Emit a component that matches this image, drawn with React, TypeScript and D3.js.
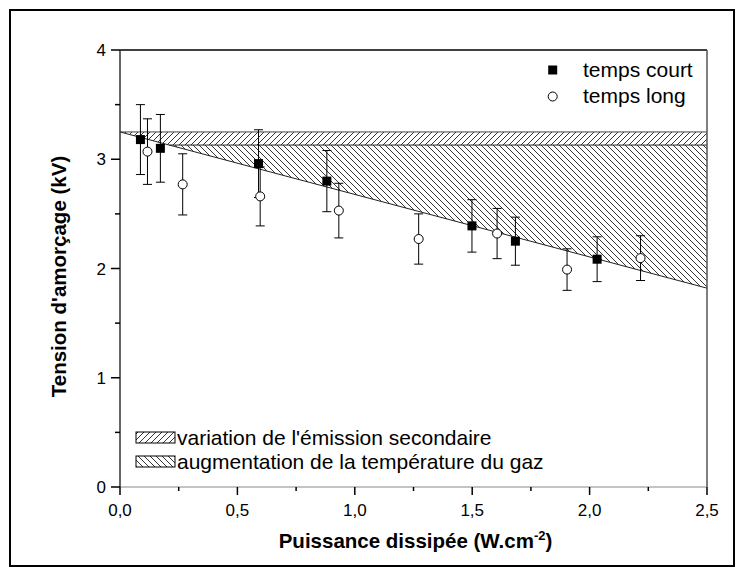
import React from "react";
import * as d3 from "d3";

// temps court (filled squares)
const courtX = [0.087, 0.172, 0.59, 0.881, 1.499, 1.684, 2.032];
const courtY = [3.18, 3.1, 2.96, 2.8, 2.39, 2.25, 2.085];
const courtErr = [0.32, 0.31, 0.31, 0.28, 0.24, 0.22, 0.205];

// temps long (open circles)
const longX = [0.117, 0.267, 0.597, 0.932, 1.272, 1.606, 1.904, 2.217];
const longY = [3.07, 2.77, 2.66, 2.53, 2.27, 2.32, 1.99, 2.095];
const longErr = [0.3, 0.28, 0.27, 0.25, 0.23, 0.23, 0.19, 0.205];

// hatched zones
const bandTop = 3.25;
const bandMid = 3.13;
const slopeEnd = 1.82;

const xTicks = [0, 0.5, 1, 1.5, 2, 2.5];
const xMinor = [0.25, 0.75, 1.25, 1.75, 2.25];
const yTicks = [0, 1, 2, 3, 4];
const yMinor = [0.5, 1.5, 2.5, 3.5];

const legendSeries = ["temps court", "temps long"];
const legendZones = [
  "variation de l'émission secondaire",
  "augmentation de la température du gaz",
];

const W = 744;
const H = 576;
const m = { left: 120, right: 707, top: 50, bottom: 487 };
const font = "'Liberation Sans', Arial, sans-serif";
const fmt = (v: number) => v.toFixed(1).replace(".", ",");

const App: React.FC = () => {
  const x = d3.scaleLinear().domain([0, 2.5]).range([m.left, m.right]);
  const y = d3.scaleLinear().domain([0, 4]).range([m.bottom, m.top]);

  // sloped line from (0, bandTop) to (2.5, slopeEnd)
  const slope = (slopeEnd - bandTop) / 2.5;
  const xCross = (bandMid - bandTop) / slope;

  const line = d3
    .line<[number, number]>()
    .x((d) => x(d[0]))
    .y((d) => y(d[1]));

  const zone1: [number, number][] = [
    [0, bandTop],
    [2.5, bandTop],
    [2.5, bandMid],
    [xCross, bandMid],
  ];
  const zone2: [number, number][] = [
    [xCross, bandMid],
    [2.5, bandMid],
    [2.5, slopeEnd],
  ];

  const sq = 9;
  const cap = 4.5;

  return (
    <svg
      width={W}
      height={H}
      style={{ position: "absolute", left: 0, top: 0, background: "#fff" }}
      fontFamily={font}
    >
      <defs>
        <pattern id="fwd" patternUnits="userSpaceOnUse" width={6} height={6}>
          <path d="M-1,1 l2,-2 M0,6 l6,-6 M5,7 l2,-2" stroke="#000" strokeWidth={0.8} />
        </pattern>
        <pattern id="back" patternUnits="userSpaceOnUse" width={6} height={6}>
          <path d="M-1,5 l2,2 M0,0 l6,6 M5,-1 l2,2" stroke="#000" strokeWidth={0.8} />
        </pattern>
      </defs>

      <rect x={10} y={10} width={724} height={556} fill="#fff" stroke="#000" strokeWidth={2} />

      {/* hatched zones */}
      <path d={line(zone1) + "Z"} fill="url(#fwd)" stroke="none" />
      <path d={line(zone2) + "Z"} fill="url(#back)" stroke="none" />
      <path d={line([[0, bandTop], [2.5, bandTop]])!} stroke="#444" strokeWidth={1} />
      <path d={line([[xCross, bandMid], [2.5, bandMid]])!} stroke="#222" strokeWidth={1} />
      <path d={line([[0, bandTop], [2.5, slopeEnd]])!} stroke="#222" strokeWidth={1} />

      {/* frame */}
      <line x1={m.left} x2={m.right} y1={m.top} y2={m.top} stroke="#000" strokeWidth={1.5} />
      <line x1={m.right} x2={m.right} y1={m.top} y2={m.bottom} stroke="#555" strokeWidth={1.5} />
      <line x1={m.left} x2={m.right} y1={m.bottom} y2={m.bottom} stroke="#888" strokeWidth={1} />
      <line x1={m.left} x2={m.left} y1={m.top} y2={m.bottom} stroke="#333" strokeWidth={1.5} />

      {/* x axis */}
      {xTicks.map((t) => (
        <g key={"xt" + t}>
          <line x1={x(t)} x2={x(t)} y1={m.bottom} y2={m.bottom + 8} stroke="#000" strokeWidth={1.5} />
          <text x={x(t)} y={m.bottom + 29} fontSize={17} textAnchor="middle">
            {fmt(t)}
          </text>
        </g>
      ))}
      {xMinor.map((t) => (
        <line key={"xm" + t} x1={x(t)} x2={x(t)} y1={m.bottom} y2={m.bottom + 4} stroke="#000" strokeWidth={1.5} />
      ))}

      {/* y axis */}
      {yTicks.map((t) => (
        <g key={"yt" + t}>
          <line x1={m.left - 9} x2={m.left} y1={y(t)} y2={y(t)} stroke="#000" strokeWidth={1.5} />
          <text x={m.left - 14} y={y(t) + 6} fontSize={17} textAnchor="end">
            {t}
          </text>
        </g>
      ))}
      {yMinor.map((t) => (
        <line key={"ym" + t} x1={m.left - 5} x2={m.left} y1={y(t)} y2={y(t)} stroke="#000" strokeWidth={1.5} />
      ))}

      {/* axis titles */}
      <text x={(m.left + m.right) / 2 + 2} y={548} fontSize={20.5} fontWeight="bold" textAnchor="middle">
        Puissance dissipée (W.cm
        <tspan fontSize={13} dy={-8}>-2</tspan>
        <tspan dy={8}>)</tspan>
      </text>
      <text
        transform={`translate(66,${(m.top + m.bottom) / 2 + 8}) rotate(-90)`}
        fontSize={20.5}
        fontWeight="bold"
        textAnchor="middle"
      >
        Tension d'amorçage (kV)
      </text>

      {/* error bars */}
      {courtX.map((d, i) => (
        <g key={"ec" + i} stroke="#000" strokeWidth={1}>
          <line x1={x(d)} x2={x(d)} y1={y(courtY[i] + courtErr[i])} y2={y(courtY[i] - courtErr[i])} />
          <line x1={x(d) - cap} x2={x(d) + cap} y1={y(courtY[i] + courtErr[i])} y2={y(courtY[i] + courtErr[i])} />
          <line x1={x(d) - cap} x2={x(d) + cap} y1={y(courtY[i] - courtErr[i])} y2={y(courtY[i] - courtErr[i])} />
        </g>
      ))}
      {longX.map((d, i) => (
        <g key={"el" + i} stroke="#000" strokeWidth={1}>
          <line x1={x(d)} x2={x(d)} y1={y(longY[i] + longErr[i])} y2={y(longY[i] - longErr[i])} />
          <line x1={x(d) - cap} x2={x(d) + cap} y1={y(longY[i] + longErr[i])} y2={y(longY[i] + longErr[i])} />
          <line x1={x(d) - cap} x2={x(d) + cap} y1={y(longY[i] - longErr[i])} y2={y(longY[i] - longErr[i])} />
        </g>
      ))}

      {/* markers */}
      {courtX.map((d, i) => (
        <rect key={"mc" + i} x={x(d) - sq / 2} y={y(courtY[i]) - sq / 2} width={sq} height={sq} fill="#000" />
      ))}
      {longX.map((d, i) => (
        <circle key={"ml" + i} cx={x(d)} cy={y(longY[i])} r={4.5} fill="#fff" stroke="#000" strokeWidth={1} />
      ))}

      {/* series legend */}
      <rect x={552.7 - 4.5} y={70 - 4.5} width={9} height={9} fill="#000" />
      <text x={583} y={77} fontSize={21}>{legendSeries[0]}</text>
      <circle cx={552.7} cy={96.5} r={4.5} fill="#fff" stroke="#000" />
      <text x={583} y={103} fontSize={21}>{legendSeries[1]}</text>

      {/* zone legend */}
      <rect x={136} y={432} width={39} height={11} fill="url(#fwd)" stroke="#000" strokeWidth={1} />
      <text x={177} y={445} fontSize={21}>{legendZones[0]}</text>
      <rect x={136} y={456} width={39} height={11} fill="url(#back)" stroke="#000" strokeWidth={1} />
      <text x={177} y={469} fontSize={21}>{legendZones[1]}</text>
    </svg>
  );
};

export default App;
